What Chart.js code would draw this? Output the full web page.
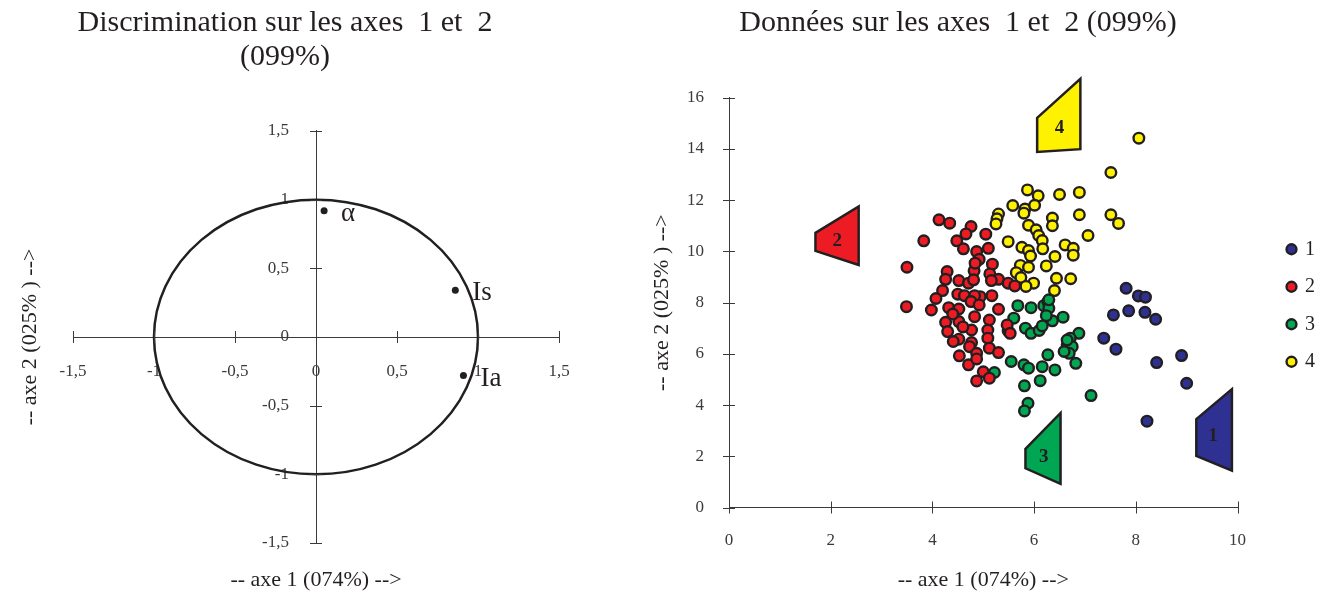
<!DOCTYPE html>
<html>
<head>
<meta charset="utf-8">
<script src="https://cdn.jsdelivr.net/npm/chart.js@4/dist/chart.umd.min.js"></script>
<style>
  body { margin: 0; background: #fff; }
  canvas { position: absolute; top: 0; }
  #cercle { left: 0; }
  #donnees { left: 591px; }
</style>
</head>
<body>
<canvas id="cercle" width="591" height="593"></canvas>
<canvas id="donnees" width="734" height="593"></canvas>
<script>
// --- cercle des correlations ---
const varNames = ['α', 'Is', 'Ia']
const varAxe1 = [0.05, 0.86, 0.91]
const varAxe2 = [0.92, 0.34, -0.28]
const circleRadius = 1
const corrTicks = [-1.5, -1, -0.5, 0, 0.5, 1, 1.5]

// --- individus ---
const groupLabels = ['1', '2', '3', '4']
const grp1Axe1 = [7.81, 8.05, 8.19, 7.56, 7.86, 8.18, 8.39, 7.37, 7.61, 8.41, 8.90, 9.00, 8.22]
const grp1Axe2 = [8.56, 8.26, 8.21, 7.52, 7.68, 7.62, 7.35, 6.61, 6.18, 5.66, 5.93, 4.85, 3.37]
const grp2Axe1 = [4.13, 4.34, 3.83, 4.76, 4.66, 4.48, 4.61, 4.87, 4.92, 5.05, 5.10, 3.50, 4.29, 4.26, 4.52, 4.71,
  4.82, 4.84, 5.18, 5.13, 5.30, 5.49, 5.62, 4.81, 4.20, 4.50, 4.63, 4.07, 4.94, 4.77, 4.83, 5.17, 3.49, 3.98,
  4.32, 4.52, 4.76, 4.92, 5.30, 4.26, 4.52, 4.83, 5.12, 4.30, 4.52, 4.77, 5.09, 5.09, 5.12, 5.30, 5.47, 5.53,
  4.41, 4.53, 4.73, 4.87, 4.71, 4.87, 5.00, 4.87, 5.12, 5.16, 4.77, 4.60, 4.40]
const grp2Axe2 = [11.23, 11.10, 10.41, 10.97, 10.68, 10.41, 10.10, 9.99, 9.69, 10.67, 10.12, 9.38, 9.21, 8.91, 8.86, 8.76,
  9.24, 9.54, 9.50, 9.12, 8.91, 8.76, 8.65, 8.89, 8.47, 8.33, 8.27, 8.16, 8.23, 8.07, 8.27, 8.27, 7.84, 7.71,
  7.80, 7.75, 8.04, 7.91, 7.74, 7.23, 7.26, 7.45, 7.32, 6.87, 6.57, 6.44, 6.93, 6.61, 6.22, 6.05, 7.13, 6.80,
  6.48, 5.92, 6.28, 6.02, 5.57, 5.80, 5.30, 4.94, 5.05, 8.86, 6.93, 7.05, 7.55]
const grp3Axe1 = [5.68, 5.94, 6.19, 6.27, 6.29, 6.57, 6.36, 6.24, 5.60, 5.49, 5.83, 5.94, 6.10, 6.16, 6.88, 6.71,
  6.65, 6.75, 6.27, 5.55, 6.65, 6.69, 6.59, 6.82, 6.41, 6.16, 6.12, 5.80, 5.89, 5.81, 5.88, 5.81, 7.12, 6.29, 5.22]
const grp3Axe2 = [7.88, 7.80, 7.88, 8.04, 7.78, 7.43, 7.29, 7.49, 7.39, 6.89, 7.00, 6.80, 6.91, 7.09, 6.80, 6.61,
  6.35, 6.28, 5.96, 5.70, 6.54, 6.02, 6.09, 5.63, 5.37, 5.50, 4.95, 5.57, 5.44, 4.75, 4.07, 3.77, 4.37, 8.11, 5.27]
const grp4Axe1 = [8.06, 7.51, 5.87, 6.08, 6.50, 6.89, 5.58, 5.82, 6.01, 5.80, 5.30, 5.27, 5.25, 6.36, 6.36, 6.89,
  7.51, 7.66, 5.89, 6.04, 6.09, 6.16, 7.06, 5.49, 5.76, 5.89, 6.17, 6.61, 6.77, 6.77, 6.41, 5.93, 5.73, 5.89,
  6.24, 5.65, 5.74, 5.99, 5.84, 6.44, 6.72, 6.40]
const grp4Axe2 = [14.42, 13.08, 12.40, 12.17, 12.22, 12.30, 11.79, 11.65, 11.80, 11.49, 11.46, 11.27, 11.07, 11.30, 11.00, 11.43,
  11.43, 11.09, 11.02, 10.84, 10.62, 10.42, 10.62, 10.38, 10.16, 10.03, 10.10, 10.25, 10.12, 9.85, 9.80, 9.82, 9.45, 9.38,
  9.43, 9.17, 8.98, 8.76, 8.63, 8.95, 8.93, 8.47]
const axe1Ticks = [0, 2, 4, 6, 8, 10]
const axe2Ticks = [0, 2, 4, 6, 8, 10, 12, 14, 16]

// etiquettes des groupes (coins du drapeau, en unites des axes)
const flag1 = [[9.19, 3.45], [9.89, 4.62], [9.89, 1.44], [9.19, 2.01]]
const flag2 = [[1.70, 10.72], [2.55, 11.75], [2.55, 9.47], [1.70, 10.02]]
const flag3 = [[5.83, 2.29], [6.52, 3.69], [6.52, 0.92], [5.83, 1.53]]
const flag4 = [[6.06, 15.21], [6.91, 16.74], [6.91, 13.99], [6.06, 13.88]]
const flagText = [[9.52, 2.79], [2.13, 10.42], [6.19, 1.97], [6.50, 14.8]]

const serif = 'Liberation Serif'
const ink = '#231f20'
const axisInk = '#3a3a3a'
const groupColors = ['#2e3192', '#ed1c24', '#00a651', '#fff200']

const toPoints = (xs, ys) => xs.map((v, i) => ({x: v, y: ys[i]}))
const fixTicks = list => s => { s.ticks = list.map(v => ({value: v})) }
const noPad = s => { s.paddingLeft = 0; s.paddingRight = 0; s.paddingTop = 0; s.paddingBottom = 0 }

// petits traits qui traversent l'axe
const crossTicks = {
  id: 'crossTicks',
  afterDatasetsDraw(chart) {
    const ctx = chart.ctx
    const area = chart.chartArea
    ctx.save()
    ctx.strokeStyle = axisInk
    ctx.lineWidth = 1
    for (const id of ['x', 'y']) {
      const s = chart.scales[id]
      const pos = s.options.position
      let base
      if (pos === 'center') {
        base = s.isHorizontal() ? (area.top + area.bottom) / 2 : (area.left + area.right) / 2
      } else {
        base = s.isHorizontal() ? s.top : s.right
      }
      for (const t of s.ticks) {
        const p = Math.round(s.getPixelForValue(t.value)) + 0.5
        ctx.beginPath()
        if (s.isHorizontal()) {
          ctx.moveTo(p, base - 6)
          ctx.lineTo(p, base + 6)
        } else {
          ctx.moveTo(base - 6, p)
          ctx.lineTo(base + 6, p)
        }
        ctx.stroke()
      }
    }
    ctx.restore()
  }
}

const unitCircle = {
  id: 'unitCircle',
  beforeDatasetsDraw(chart) {
    const {x, y} = chart.scales
    const ctx = chart.ctx
    const cx = x.getPixelForValue(0)
    const cy = y.getPixelForValue(0)
    ctx.save()
    ctx.beginPath()
    ctx.ellipse(cx, cy, x.getPixelForValue(circleRadius) - cx, cy - y.getPixelForValue(circleRadius), 0, 0, Math.PI * 2)
    ctx.lineWidth = 2.5
    ctx.strokeStyle = ink
    ctx.stroke()
    ctx.restore()
  }
}

const pointNames = {
  id: 'pointNames',
  afterDatasetsDraw(chart) {
    const ctx = chart.ctx
    ctx.save()
    ctx.font = `27px "${serif}"`
    ctx.fillStyle = ink
    ctx.textBaseline = 'middle'
    chart.getDatasetMeta(0).data.forEach((pt, i) => {
      ctx.fillText(varNames[i], pt.x + 17, pt.y + 3)
    })
    ctx.restore()
  }
}

const flags = {
  id: 'flags',
  afterDatasetsDraw(chart) {
    const {x, y} = chart.scales
    const ctx = chart.ctx
    ctx.save()
    ;[flag1, flag2, flag3, flag4].forEach((shape, i) => {
      ctx.beginPath()
      shape.forEach(([a, b], j) => {
        const px = x.getPixelForValue(a)
        const py = y.getPixelForValue(b)
        if (j) ctx.lineTo(px, py)
        else ctx.moveTo(px, py)
      })
      ctx.closePath()
      ctx.fillStyle = groupColors[i]
      ctx.fill()
      ctx.lineWidth = 2.5
      ctx.strokeStyle = ink
      ctx.stroke()
      ctx.fillStyle = ink
      ctx.font = `bold 19px "${serif}"`
      ctx.textAlign = 'center'
      ctx.textBaseline = 'middle'
      ctx.fillText(groupLabels[i], x.getPixelForValue(flagText[i][0]), y.getPixelForValue(flagText[i][1]))
    })
    ctx.restore()
  }
}

const tickFont = {family: serif, size: 17}
const hidden = {
  ticks: {display: false},
  grid: {display: false, drawTicks: false},
  border: {display: false}
}

new Chart(document.getElementById('cercle'), {
  type: 'scatter',
  data: {
    datasets: [{
      data: toPoints(varAxe1, varAxe2),
      pointRadius: 3.5,
      pointBackgroundColor: ink,
      pointBorderWidth: 0
    }]
  },
  options: {
    responsive: false,
    animation: false,
    events: [],
    layout: {padding: {left: 11, right: 32, top: 0, bottom: 0}},
    plugins: {
      legend: {display: false},
      tooltip: {enabled: false},
      title: {
        display: true,
        text: ['Discrimination sur les axes  1 et  2', '(099%)'],
        color: ink,
        font: {family: serif, size: 30, weight: 'normal', lineHeight: 1.113},
        padding: {top: 6.6, bottom: 57.6}
      }
    },
    scales: {
      // axes croises au centre (l'origine est au milieu de la zone)
      x: {
        type: 'linear',
        position: 'center',
        min: -1.5,
        max: 1.5,
        afterBuildTicks: fixTicks(corrTicks),
        afterFit: noPad,
        ticks: {
          padding: 24.5, autoSkip: false, maxRotation: 0, color: axisInk, font: tickFont,
          callback: v => String(v).replace('.', ',')
        },
        grid: {display: false, drawTicks: false},
        border: {display: true, color: axisInk, width: 1}
      },
      y: {
        type: 'linear',
        position: 'center',
        min: -1.5,
        max: 1.5,
        afterBuildTicks: fixTicks(corrTicks),
        afterFit: noPad,
        ticks: {
          padding: 27, autoSkip: false, color: axisInk, font: tickFont,
          callback: v => String(v).replace('.', ',')
        },
        grid: {display: false, drawTicks: false},
        border: {display: true, color: axisInk, width: 1}
      },
      yt: {
        type: 'linear',
        axis: 'y',
        position: 'left',
        ...hidden,
        title: {
          display: true, text: '-- axe 2 (025% ) -->', color: ink,
          font: {family: serif, size: 22}, padding: {top: 5.8, bottom: 0}
        },
        afterFit: s => { s.width = 62 }
      },
      xt: {
        type: 'linear',
        axis: 'x',
        position: 'bottom',
        ...hidden,
        title: {
          display: true, text: '-- axe 1 (074%) -->', color: ink,
          font: {family: serif, size: 22}, padding: {top: 0, bottom: 0}
        },
        afterFit: s => { s.height = 50 }
      }
    }
  },
  plugins: [crossTicks, unitCircle, pointNames]
})

const groupX = [grp1Axe1, grp2Axe1, grp3Axe1, grp4Axe1]
const groupY = [grp1Axe2, grp2Axe2, grp3Axe2, grp4Axe2]

new Chart(document.getElementById('donnees'), {
  type: 'scatter',
  data: {
    datasets: groupLabels.map((lab, i) => ({
      label: lab,
      data: toPoints(groupX[i], groupY[i]),
      backgroundColor: groupColors[i],
      borderColor: ink,
      pointBackgroundColor: groupColors[i],
      pointBorderColor: ink,
      pointBorderWidth: 2.4,
      borderWidth: 2.4,
      pointRadius: 5.3,
      pointStyle: 'circle'
    }))
  },
  options: {
    responsive: false,
    animation: false,
    events: [],
    layout: {padding: 0},
    plugins: {
      tooltip: {enabled: false},
      title: {
        display: true,
        text: 'Données sur les axes  1 et  2 (099%)',
        color: ink,
        font: {family: serif, size: 30, weight: 'normal', lineHeight: 1.113},
        padding: {top: 6.6, bottom: 57.7}
      },
      legend: {
        position: 'right',
        maxWidth: 58,
        title: {display: true, text: '', font: {size: 10}, padding: 3},
        labels: {
          usePointStyle: true,
          pointStyle: 'circle',
          boxWidth: 7,
          boxHeight: 7,
          padding: 17.5,
          color: ink,
          font: {family: serif, size: 20}
        }
      }
    },
    scales: {
      x: {
        type: 'linear',
        position: 'bottom',
        min: 0,
        max: 10,
        afterBuildTicks: fixTicks(axe1Ticks),
        ticks: {padding: 23, autoSkip: false, maxRotation: 0, color: axisInk, font: tickFont},
        grid: {display: false, drawTicks: false},
        border: {display: true, color: axisInk, width: 1},
        title: {
          display: true, text: '-- axe 1 (074%) -->', color: ink,
          font: {family: serif, size: 22}, padding: {top: 0, bottom: 0}
        },
        afterFit: s => { s.height = 85.5 }
      },
      y: {
        type: 'linear',
        position: 'left',
        min: 0,
        max: 16,
        afterBuildTicks: fixTicks(axe2Ticks),
        ticks: {padding: 25, autoSkip: false, color: axisInk, font: tickFont},
        grid: {display: false, drawTicks: false},
        border: {display: true, color: axisInk, width: 1},
        title: {
          display: true, text: '-- axe 2 (025% ) -->', color: ink,
          font: {family: serif, size: 22}, padding: {top: 57.8, bottom: 0}
        },
        afterFit: s => { s.width = 138 }
      },
      sp: {
        type: 'linear',
        axis: 'y',
        position: 'right',
        ...hidden,
        afterFit: s => { s.width = 33 }
      }
    }
  },
  plugins: [crossTicks, flags]
})
</script>
</body>
</html>
